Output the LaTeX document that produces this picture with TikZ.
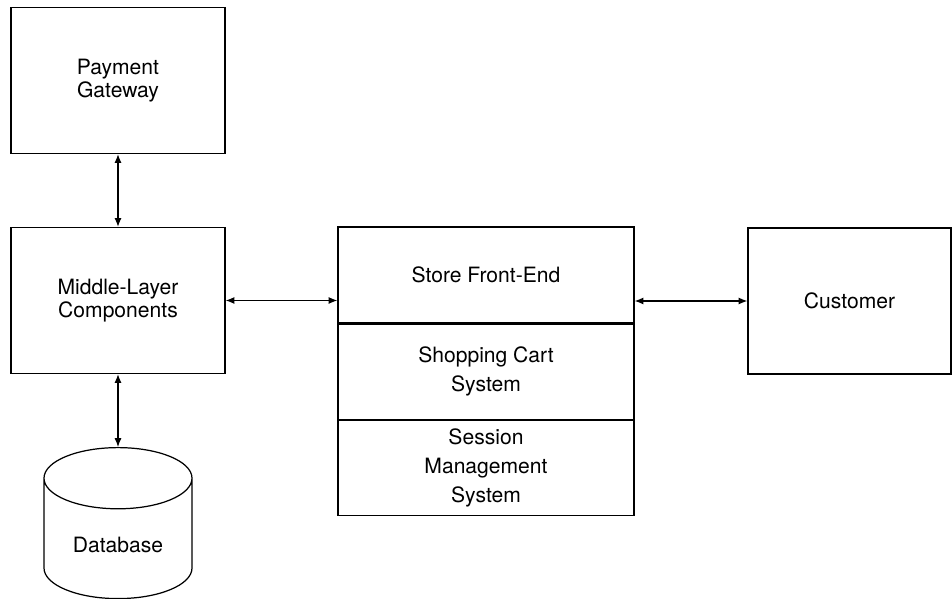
\documentclass[tikz,border=0pt]{standalone}
\usepackage{fontspec}
\setmainfont{TeX Gyre Heros}
\usetikzlibrary{positioning,shapes.geometric,arrows.meta}
\begin{document}
\begin{tikzpicture}[
    box/.style={draw,line width=0.7pt,align=center,minimum width=4.28cm,minimum height=2.92cm,
      font=\fontsize{12}{13}\selectfont},
    part/.style={draw,line width=0.7pt,align=center,minimum width=5.92cm,minimum height=1.9cm,
      font=\fontsize{12}{16.5}\selectfont},
    store/.style={cylinder,draw,line width=0.7pt,shape border rotate=90,aspect=0.6,
      minimum width=2.96cm,minimum height=3.02cm,font=\fontsize{12}{13}\selectfont}]
  \useasboundingbox (0,0) rectangle (19.04,11.98);
  \node[box] (pg) at (2.36,10.37) {Payment\\Gateway};
  \node[box] (mlc) at (2.36,5.97) {Middle-Layer\\Components};
  \node[store,anchor=north] (db) at (2.36,3.04) {Database};
  \node[part,minimum height=1.92cm] (front) at (9.72,6.48) {Store Front-End};
  \node[part,below=0pt of front] (cart) {Shopping Cart\\System};
  \node[part,below=0pt of cart] (session) {Session\\Management\\System};
  \node[box,minimum width=4.06cm] (cust) at (16.99,5.96) {Customer};
  \begin{scope}[{Latex[length=5pt,width=4pt]}-{Latex[length=5pt,width=4pt]},line width=0.7pt]
    \draw (pg) to (mlc);
    \draw (mlc) to (db);
    \draw (mlc.east) to (mlc.east -| front.west);
    \draw (cust.west) to (cust.west -| front.east);
  \end{scope}
\end{tikzpicture}
\end{document}
